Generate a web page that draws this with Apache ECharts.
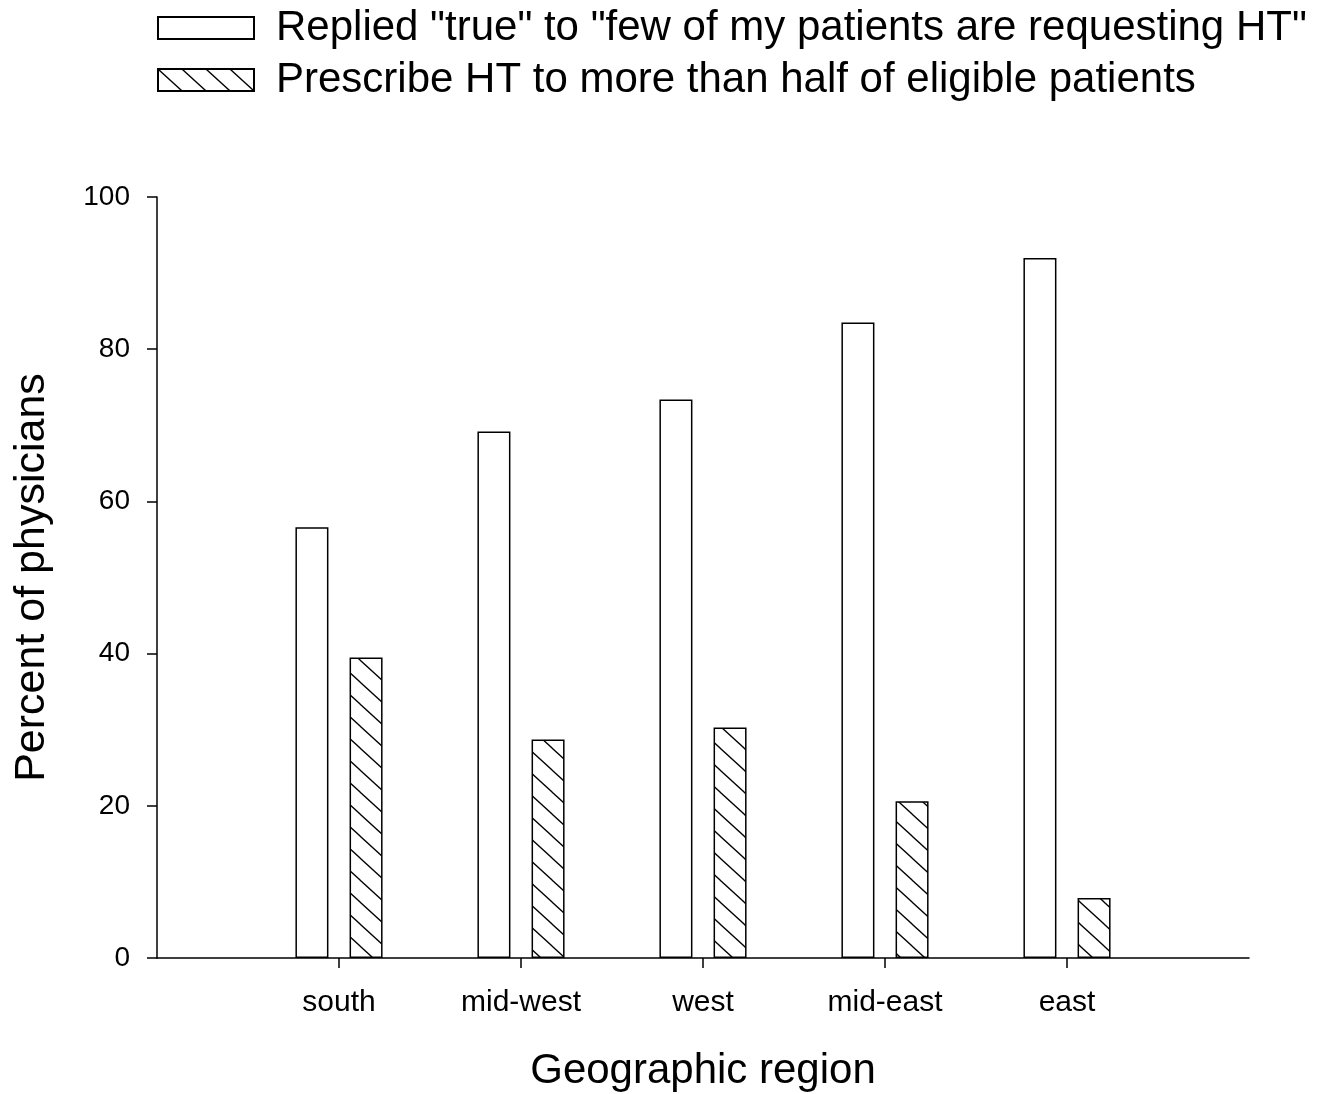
<!DOCTYPE html>
<html>
<head>
<meta charset="utf-8">
<script src="https://cdn.jsdelivr.net/npm/echarts@6/dist/echarts.min.js"></script>
<style>
  html, body { margin: 0; padding: 0; background: #fff; }
  #chart { width: 1329px; height: 1094px; }
</style>
</head>
<body>
<div id="chart"></div>
<script>
const categories = ['south', 'mid-west', 'west', 'mid-east', 'east'];
const repliedTrue = [56.6, 69.2, 73.4, 83.5, 92.0];
const prescribeHT = [39.5, 28.7, 30.3, 20.6, 7.9];
const yTicks = [0, 20, 40, 60, 80, 100];
const seriesNames = [
  'Replied "true" to "few of my patients are requesting HT"',
  'Prescribe HT to more than half of eligible patients'
];

function makeHatch() {
  const w = 24, h = 22;
  const c = document.createElement('canvas');
  c.width = w; c.height = h;
  const ctx = c.getContext('2d');
  ctx.fillStyle = '#fff';
  ctx.fillRect(0, 0, w, h);
  ctx.strokeStyle = '#000';
  ctx.lineWidth = 1.3;
  for (const dx of [-w, 0, w]) {
    ctx.beginPath();
    ctx.moveTo(dx - w, -h);
    ctx.lineTo(dx + 2 * w, 2 * h);
    ctx.stroke();
  }
  return c;
}

const font = "'Liberation Sans', Arial, Helvetica, sans-serif";
const chart = echarts.init(document.getElementById('chart'), null, { renderer: 'canvas' });
const catPos = categories.map((c, i) => i + 1);

chart.setOption({
  animation: false,
  backgroundColor: '#fff',
  textStyle: { fontFamily: font, color: '#000' },
  legend: {
    orient: 'vertical',
    left: 157,
    top: 7,
    padding: 0,
    itemWidth: 96,
    itemHeight: 22,
    itemGap: 10,
    icon: 'rect',
    textStyle: { fontSize: 42, fontFamily: font, color: '#000', padding: [0, 0, 0, 17] },
    data: seriesNames
  },
  grid: { left: 157, right: 80, top: 197, bottom: 136, containLabel: false, outerBoundsMode: 'none' },
  xAxis: {
    type: 'value',
    min: 0,
    max: categories.length + 1,
    interval: 1,
    name: 'Geographic region',
    nameLocation: 'middle',
    nameGap: 92,
    nameTextStyle: { fontSize: 42, fontFamily: font, color: '#000' },
    axisLine: { show: true, lineStyle: { color: '#000', width: 1.5 } },
    axisTick: { show: true, inside: false, length: 10, lineStyle: { color: '#000', width: 1.5 }, customValues: catPos },
    axisLabel: {
      customValues: catPos,
      fontSize: 30, fontFamily: font, color: '#000', margin: 30,
      formatter: v => categories[Math.round(v) - 1] || ''
    },
    splitLine: { show: false }
  },
  yAxis: {
    type: 'value',
    min: yTicks[0],
    max: yTicks[yTicks.length - 1],
    interval: 20,
    name: 'Percent of physicians',
    nameLocation: 'middle',
    nameGap: 103,
    nameTextStyle: { fontSize: 43, fontFamily: font, color: '#000' },
    axisLine: { show: true, lineStyle: { color: '#000', width: 1.5 } },
    axisTick: { show: true, inside: false, length: 10, lineStyle: { color: '#000', width: 1.5 } },
    axisLabel: { fontSize: 28, fontFamily: font, color: '#000', margin: 27 },
    splitLine: { show: false }
  },
  series: [
    {
      name: seriesNames[0],
      type: 'bar',
      barWidth: 33,
      barGap: '64%',
      data: repliedTrue.map((v, i) => [catPos[i], v]),
      itemStyle: { color: '#fff', borderColor: '#000', borderWidth: 1.5 }
    },
    {
      name: seriesNames[1],
      type: 'bar',
      barWidth: 33,
      barGap: '64%',
      data: prescribeHT.map((v, i) => [catPos[i], v]),
      itemStyle: { color: { image: makeHatch(), repeat: 'repeat' }, borderColor: '#000', borderWidth: 1.5 }
    }
  ]
});
</script>
</body>
</html>
